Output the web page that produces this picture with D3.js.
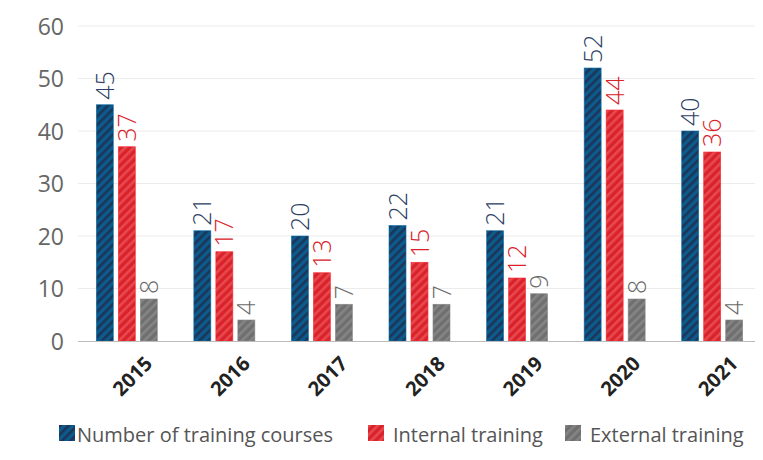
<!DOCTYPE html>
<html>
<head>
<meta charset="utf-8">
<script src="https://cdn.jsdelivr.net/npm/d3@7"></script>
<style>
  html, body { margin: 0; padding: 0; background: #fff; }
  svg { display: block; font-family: "Open Sans", "Noto Sans", sans-serif; }
</style>
</head>
<body>
<svg id="chart" width="763" height="460"></svg>
<script>
const years = ["2015", "2016", "2017", "2018", "2019", "2020", "2021"];
const totalCourses = [45, 21, 20, 22, 21, 52, 40];
const internalTraining = [37, 17, 13, 15, 12, 44, 36];
const externalTraining = [8, 4, 7, 7, 9, 8, 4];
const yTicks = [0, 10, 20, 30, 40, 50, 60];
const seriesNames = ["Number of training courses", "Internal training", "External training"];

const series = [
  { key: "total", name: seriesNames[0], values: totalCourses, fill: "#0b5b8c", stripe: "#1d3558", label: "#2e3f66" },
  { key: "internal", name: seriesNames[1], values: internalTraining, fill: "#d9222a", stripe: "#e8494f", label: "#d9222a" },
  { key: "external", name: seriesNames[2], values: externalTraining, fill: "#6f6f6f", stripe: "#858585", label: "#6a6a6a" }
];

const svg = d3.select("#chart");
const margin = { left: 78, right: 2, top: 26, bottom: 119 };
const width = 763, height = 460;

const x = d3.scaleBand().domain(years).range([margin.left, width - margin.right]).paddingInner(0).paddingOuter(0);
const y = d3.scaleLinear().domain([0, 60]).range([height - margin.bottom, margin.top]);
const barW = 17, gap = 5;
const xs = d3.scaleBand().domain(series.map(s => s.key))
  .range([-(barW * 3 + gap * 2) / 2, (barW * 3 + gap * 2) / 2]).paddingInner(gap / (barW + gap)).paddingOuter(0);

// diagonal stripe fills
const defs = svg.append("defs");
series.forEach(s => {
  const p = defs.append("pattern")
    .attr("id", "pat-" + s.key)
    .attr("patternUnits", "userSpaceOnUse")
    .attr("width", 6).attr("height", 6)
    .attr("patternTransform", "rotate(45)");
  p.append("rect").attr("width", 6).attr("height", 6).attr("fill", s.fill);
  p.append("rect").attr("x", 0).attr("width", 2.6).attr("height", 6).attr("fill", s.stripe);
});

// gridlines
svg.append("g")
  .selectAll("line")
  .data(yTicks.filter(t => t > 0))
  .join("line")
  .attr("x1", margin.left).attr("x2", width - 8)
  .attr("y1", d => y(d)).attr("y2", d => y(d))
  .attr("stroke", "#ececec").attr("stroke-width", 1);

// y axis labels
const yAxis = d3.axisLeft(y).tickValues(yTicks).tickSize(0).tickPadding(14);
const gy = svg.append("g").attr("transform", `translate(${margin.left},0)`).call(yAxis);
gy.select(".domain").remove();
gy.selectAll("text")
  .attr("font-size", 23).attr("fill", "#666").attr("font-family", "Open Sans, sans-serif")
  .attr("dy", "0.35em");

// bars
const groups = svg.append("g").selectAll("g")
  .data(years)
  .join("g")
  .attr("transform", d => `translate(${x(d) + x.bandwidth() / 2},0)`);

series.forEach(s => {
  groups.append("rect")
    .attr("x", () => xs(s.key))
    .attr("width", xs.bandwidth())
    .attr("y", (d, i) => y(s.values[i]))
    .attr("height", (d, i) => y(0) - y(s.values[i]))
    .attr("fill", `url(#pat-${s.key})`)
    .attr("stroke", d3.color(s.fill).brighter(0.6))
    .attr("stroke-width", 0.6);

  groups.append("text")
    .attr("transform", (d, i) => `translate(${xs(s.key) + xs.bandwidth() / 2 + 9},${y(s.values[i]) - 5}) rotate(-90)`)
    .attr("text-anchor", "start")
    .attr("font-size", 25)
    .attr("font-weight", 300)
    .attr("fill", s.label)
    .text((d, i) => s.values[i]);
});

// x axis baseline
svg.append("line")
  .attr("x1", margin.left).attr("x2", width - 8)
  .attr("y1", y(0) + 0.5).attr("y2", y(0) + 0.5)
  .attr("stroke", "#bbb").attr("stroke-width", 1.2);

// year labels
const xAxis = d3.axisBottom(x).tickSize(0).tickPadding(0);
const gx = svg.append("g").attr("transform", `translate(0,${y(0)})`).call(xAxis);
gx.select(".domain").remove();
gx.selectAll("text")
  .attr("transform", "translate(17,14) rotate(-45)")
  .attr("text-anchor", "end")
  .attr("dy", "0.7em")
  .attr("y", 0)
  .attr("font-size", 20)
  .attr("font-weight", 700)
  .attr("fill", "#222")
  .attr("font-family", "Open Sans, sans-serif");

// legend
const legendX = [59, 368, 565];
const legend = svg.append("g");
series.forEach((s, i) => {
  const g = legend.append("g").attr("transform", `translate(${legendX[i]},425)`);
  g.append("rect").attr("width", 16).attr("height", 16).attr("fill", `url(#pat-${s.key})`);
  g.append("text")
    .attr("x", i === 0 ? 18 : 25).attr("y", 17)
    .attr("font-size", 20).attr("fill", "#555")
    .text(s.name);
});
</script>
</body>
</html>
